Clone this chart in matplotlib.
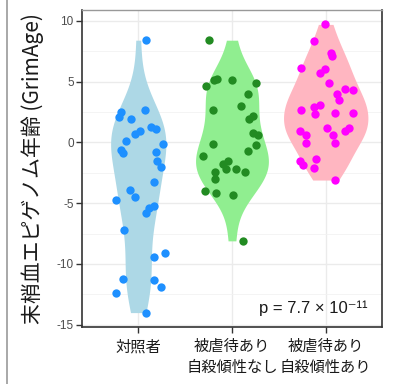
import numpy as np
import matplotlib
matplotlib.use("Agg")
import matplotlib.pyplot as plt
from matplotlib.lines import Line2D

# groups and labels
groups = ["対照者", "被虐待あり\n自殺傾性なし", "被虐待あり\n自殺傾性あり"]
ylabel = "末梢血エピゲノム年齢 (GrimAge)"
p_text = "p = 7.7 × 10⁻¹¹"

# values (y) with their horizontal jitter (x offset)
ctrl_y = [8.4, 2.7, 2.5, 2.1, 1.9, 1.25, 1.1, 0.9, 0.7, 0.15, -0.1, -0.6, -0.9,
          -0.8, -1.5, -2.0, -3.3, -3.9, -4.5, -4.7, -5.2, -5.4, -5.8, -7.2,
          -9.1, -9.4, -11.2, -11.3, -11.9, -12.4, -14.0]
ctrl_dx = [0.088, 0.067, -0.18, -0.206, -0.074, 0.141, 0.191, 0.014, -0.039,
           -0.132, 0.261, -0.188, -0.159, 0.191, 0.202, 0.247, 0.17, -0.092,
           -0.039, -0.241, 0.17, 0.113, 0.085, -0.153, 0.282, 0.166, -0.167,
           0.17, 0.247, -0.241, 0.088]

abuse_y = [8.4, 5.2, 5.1, 5.1, 4.9, 4.6, 4.0, 3.0, 2.7, 2.2, 1.9, 0.8, 0.6,
           -0.1, -0.2, -0.7, -1.1, -1.55, -1.75, -2.2, -2.2, -2.4, -2.4, -3.0,
           -4.0, -4.2, -4.3, -8.1]
abuse_dx = [-0.247, -0.159, -0.194, 0.0, 0.259, -0.279, 0.17, 0.1, -0.202,
            0.223, 0.18, 0.223, 0.276, -0.202, 0.252, 0.17, -0.308, -0.042,
            -0.096, -0.059, 0.039, 0.135, -0.184, -0.176, -0.29, -0.173,
            0.011, 0.117]

suicide_y = [9.7, 8.3, 7.35, 7.1, 6.1, 6.0, 5.7, 4.9, 4.4, 4.3, 4.0, 3.5, 3.1,
             2.9, 2.7, 2.4, 2.4, 2.35, 1.2, 1.2, 0.9, 0.9, 0.6, 0.6, -0.05,
             -0.05, -1.35, -1.5, -1.9, -2.1, -3.1]
suicide_dx = [-0.003, -0.124, 0.053, 0.071, -0.265, -0.003, -0.056, 0.032,
              0.209, 0.29, 0.124, 0.138, -0.064, -0.124, -0.265, 0.103, 0.29,
              -0.117, 0.018, 0.244, -0.276, 0.209, -0.205, 0.077, -0.212,
              0.103, -0.099, -0.276, -0.241, -0.124, 0.103]

fill_colors = ["#ADD8E6", "#90EE90", "#FFB6C1"]
point_colors = ["#1E90FF", "#228B22", "#FF00FF"]

plt.rcParams["font.family"] = ["Noto Sans CJK JP", "DejaVu Sans"]


def nrd0(y):
    y = np.asarray(y)
    q75, q25 = np.percentile(y, [75, 25])
    lo = min(np.std(y, ddof=1), (q75 - q25) / 1.34)
    return 0.9 * lo * len(y) ** -0.2


def density(y):
    y = np.asarray(y)
    bw = nrd0(y)
    grid = np.linspace(y.min(), y.max(), 512)
    d = np.exp(-0.5 * ((grid[:, None] - y[None, :]) / bw) ** 2).sum(axis=1)
    d /= len(y) * bw * np.sqrt(2 * np.pi)
    return grid, d


fig = plt.figure(figsize=(4.01, 3.84), dpi=100)
ax = fig.add_axes([0.2045, 0.1484, 0.748, 0.8256])

all_y = [ctrl_y, abuse_y, suicide_y]
all_dx = [ctrl_dx, abuse_dx, suicide_dx]
dens = [density(y) for y in all_y]
dmax = max(d.max() for _, d in dens)

for i, ((grid, d), ys, dxs) in enumerate(zip(dens, all_y, all_dx)):
    pos = i + 1
    w = d / dmax * 0.45
    ax.fill_betweenx(grid, pos - w, pos + w, color=fill_colors[i], lw=0, zorder=2)
    ax.scatter(pos + np.array(dxs), ys, s=36, color=point_colors[i],
               lw=0, zorder=3)

ax.set_xlim(0.4, 3.6)
ax.set_ylim(-15.185, 10.885)
ax.set_xticks([1, 2, 3])
ax.set_xticklabels(groups, fontsize=11, color="#1a1a1a", linespacing=1.3)
ax.set_yticks([-15, -10, -5, 0, 5, 10])
ax.set_yticklabels(["-15", "-10", "-5", "0", "5", "10"],
                   fontsize=8.5, color="#4d4d4d", family=["Liberation Sans"])
ax.set_yticks(np.arange(-12.5, 10, 5), minor=True)
ax.tick_params(axis="both", length=4, width=1, color="#333333")
ax.tick_params(axis="y", which="minor", length=0)
ax.tick_params(axis="y", pad=2)
ax.tick_params(axis="x", pad=4)

ax.grid(True, which="major", color="#EBEBEB", lw=1.0, zorder=0)
ax.grid(True, which="minor", axis="y", color="#F2F2F2", lw=0.6, zorder=0)
ax.set_axisbelow(True)

for side in ["left", "bottom", "right"]:
    ax.spines[side].set_color("#333333")
    ax.spines[side].set_linewidth(1.2)
ax.spines["top"].set_color("#999999")
ax.spines["top"].set_linewidth(1.0)

ax.set_ylabel(ylabel, fontsize=15, color="#1a1a1a", labelpad=9)

ax.text(0.953, 0.044, p_text, transform=ax.transAxes, ha="right", va="baseline",
        fontsize=12, color="#1a1a1a", family=["Liberation Sans", "DejaVu Sans"])

# frame line at the left edge of the image
fig.add_artist(Line2D([7 / 401, 7 / 401], [0, 1], color="#9a9a9a", lw=1.2,
                      transform=fig.transFigure))

fig.savefig("out.png", dpi=100)
